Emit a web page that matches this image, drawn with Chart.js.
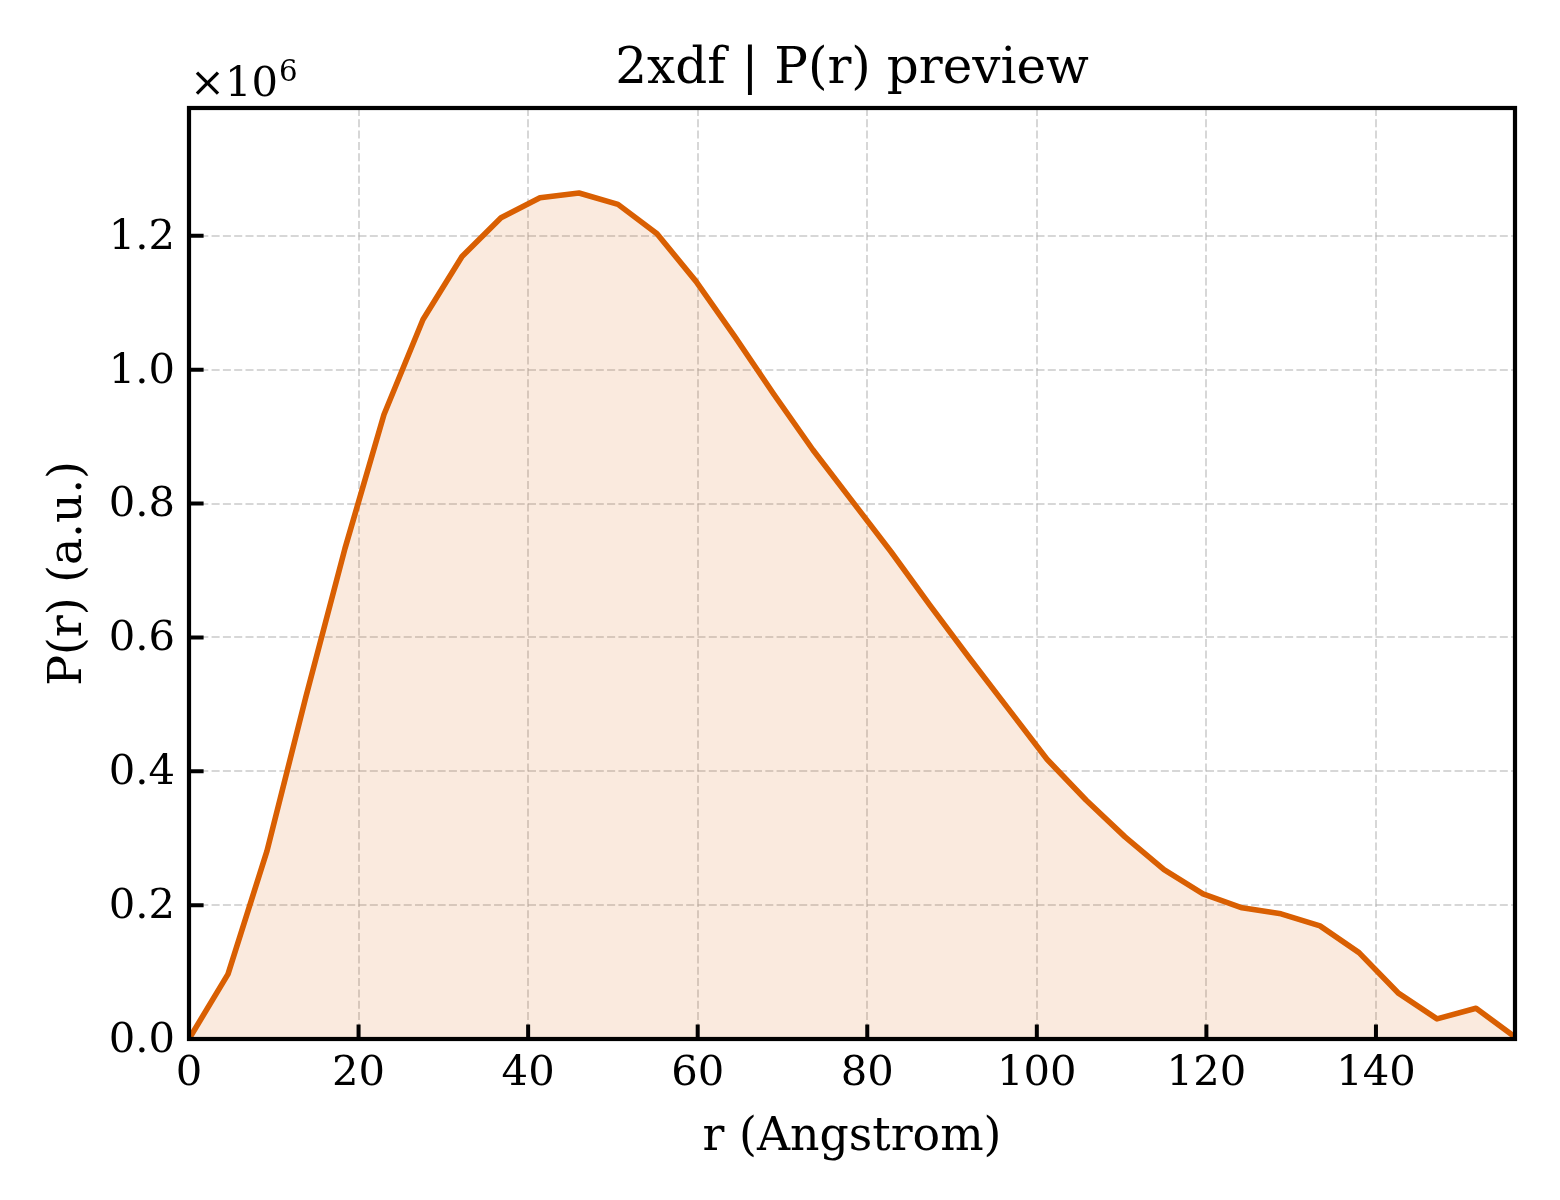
<!DOCTYPE html>
<html>
<head>
<meta charset="utf-8">
<title>2xdf | P(r) preview</title>
<script src="https://cdn.jsdelivr.net/npm/chart.js@4.4.1/dist/chart.umd.min.js"></script>
<style>
  html, body { margin: 0; padding: 0; background: #fff; }
  canvas { display: block; }
</style>
</head>
<body>
<canvas id="pr" width="1560" height="1200"></canvas>
<script>
// values (P in a.u., shown as x10^6 on the axis)
const rValues = [0, 4.6, 9.2, 13.8, 18.4, 23.0, 27.6, 32.2, 36.8, 41.4,
  46.0, 50.6, 55.2, 59.8, 64.4, 69.0, 73.6, 78.2, 82.8, 87.4,
  92.0, 96.6, 101.2, 105.8, 110.4, 115.0, 119.6, 124.2, 128.8, 133.4,
  138.0, 142.6, 147.2, 151.8, 156.4];
const prValues = [0, 97000, 281000, 512000, 733000, 933000, 1075000, 1169000, 1227000, 1257000,
  1264000, 1247000, 1203000, 1132000, 1049000, 963000, 880000, 804000, 728000, 648000,
  570000, 494000, 418000, 357000, 302000, 253000, 217000, 196000, 187000, 169000,
  129000, 69000, 30000, 46000, 3000];
const xTicks = [0, 20, 40, 60, 80, 100, 120, 140];
const yTicks = [0, 200000, 400000, 600000, 800000, 1000000, 1200000];

const X_MAX = 156.4;
const Y_MAX = 1391000;
const TITLE = '2xdf | P(r) preview';
const X_LABEL = 'r (Angstrom)';
const Y_LABEL = 'P(r) (a.u.)';

const SERIF = '"DejaVu Serif", serif';
const ORANGE = '#d95f02';
const GRID = 'rgba(176,176,176,0.5)';
const TICK_FONT = 41.7, LABEL_FONT = 45.8, TITLE_FONT = 50;

// matplotlib-like frame, inward ticks and text
const mplDecor = {
  id: 'mplDecor',
  afterDraw(chart) {
    const { ctx, chartArea: a, scales: { x, y } } = chart;
    const cx = (a.left + a.right) / 2;
    ctx.save();
    ctx.strokeStyle = '#000';
    ctx.lineWidth = 4;
    ctx.beginPath();
    xTicks.forEach(v => {
      const px = x.getPixelForValue(v);
      ctx.moveTo(px, a.bottom); ctx.lineTo(px, a.bottom - 14.6);
    });
    yTicks.forEach(v => {
      const py = y.getPixelForValue(v);
      ctx.moveTo(a.left, py); ctx.lineTo(a.left + 14.6, py);
    });
    ctx.stroke();
    ctx.lineWidth = 4.2;
    ctx.strokeRect(a.left, a.top, a.right - a.left, a.bottom - a.top);

    ctx.fillStyle = '#000';
    ctx.textBaseline = 'alphabetic';
    // title
    ctx.font = TITLE_FONT + 'px ' + SERIF;
    ctx.textAlign = 'center';
    ctx.fillText(TITLE, cx, 83);
    // x label
    ctx.font = LABEL_FONT + 'px ' + SERIF;
    ctx.fillText(X_LABEL, cx, 1150);
    // y label
    ctx.save();
    ctx.translate(81, (a.top + a.bottom) / 2);
    ctx.rotate(-Math.PI / 2);
    ctx.fillText(Y_LABEL, 0, 0);
    ctx.restore();
    // offset text x10^6
    ctx.textAlign = 'left';
    ctx.font = TICK_FONT + 'px ' + SERIF;
    ctx.fillText('×10', a.left + 1, 96);
    const w = ctx.measureText('×10').width;
    ctx.font = (TICK_FONT * 0.7) + 'px ' + SERIF;
    ctx.fillText('6', a.left + 2 + w, 81);
    ctx.restore();
  }
};

new Chart(document.getElementById('pr'), {
  type: 'line',
  data: {
    datasets: [{
      data: rValues.map((r, i) => ({ x: r, y: prValues[i] })),
      borderColor: ORANGE,
      borderWidth: 5.6,
      borderJoinStyle: 'round',
      backgroundColor: 'rgba(217,95,2,0.13)',
      fill: 'origin',
      pointRadius: 0,
      tension: 0
    }]
  },
  options: {
    responsive: false,
    devicePixelRatio: 1,
    animation: false,
    layout: { padding: { left: 0, right: 45, top: 108, bottom: 0 } },
    plugins: { legend: { display: false }, tooltip: { enabled: false }, title: { display: false } },
    scales: {
      x: {
        type: 'linear',
        min: 0,
        max: X_MAX,
        afterFit(scale) { scale.height = 161; },
        afterBuildTicks(scale) { scale.ticks = xTicks.map(v => ({ value: v })); },
        grid: { color: GRID, lineWidth: 2, drawTicks: false },
        border: { display: false, dash: [8, 3.3] },
        ticks: {
          color: '#000',
          padding: 10,
          maxRotation: 0,
          font: { family: SERIF, size: TICK_FONT },
          callback: v => String(v)
        }
      },
      y: {
        type: 'linear',
        min: 0,
        max: Y_MAX,
        afterFit(scale) { scale.width = 189; },
        afterBuildTicks(scale) { scale.ticks = yTicks.map(v => ({ value: v })); },
        grid: { color: GRID, lineWidth: 2, drawTicks: false },
        border: { display: false, dash: [8, 3.3] },
        ticks: {
          color: '#000',
          padding: 14,
          labelOffset: 2,
          font: { family: SERIF, size: TICK_FONT },
          callback: v => (v / 1e6).toFixed(1)
        }
      }
    }
  },
  plugins: [mplDecor]
});
</script>
</body>
</html>
